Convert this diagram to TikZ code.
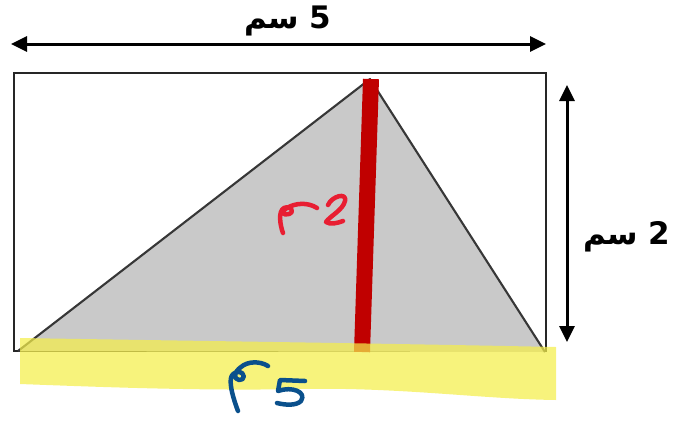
\documentclass[tikz,border=0pt]{standalone}
\usepackage{fontspec}
\newfontfamily\arabicfont[Script=Arabic]{DejaVu Sans}
\TeXXeTstate=1
\usetikzlibrary{arrows.meta}
\definecolor{trigray}{RGB}{201,201,201}
\definecolor{edgegray}{RGB}{55,55,55}
\definecolor{hred}{RGB}{192,0,0}
\definecolor{hl}{RGB}{244,238,74}
\definecolor{penred}{RGB}{232,30,50}
\definecolor{penblue}{RGB}{10,80,140}
\tikzset{
  dimarrow/.style={line width=3pt,{Triangle[length=16pt,width=15pt]}-{Triangle[length=16pt,width=15pt]}},
  dimlabel/.style={font=\arabicfont\bfseries\fontsize{31}{36}\selectfont, inner sep=0pt},
  pen/.style={line width=4.5pt,line cap=round,line join=round}
}
\begin{document}
\begin{tikzpicture}[x=1pt,y=-1pt]
\useasboundingbox (0,0) rectangle (686,421);
% rectangle
\coordinate (r1) at (14,73);
\coordinate (r2) at (546,351);
\draw[line width=2.3pt,black!85] (r1) rectangle (r2);
% triangle
\coordinate (A) at (18,351);
\coordinate (B) at (370,79);
\coordinate (C) at (545,352);
\fill[trigray] (A) -- (B) -- (C) -- cycle;
\draw[line width=2.1pt,edgegray,line join=round] (A) -- (B) -- (C);
% red height
\coordinate (ht) at (371,79);
\coordinate (hb) at (362,352);
\draw[hred,line width=16pt] (ht) -- (hb);
% yellow highlight
\fill[hl,opacity=0.72] (20,338) .. controls (200,341) and (360,343) .. (556,347)
  -- (556,400) .. controls (480,399) and (400,387) .. (300,389)
  .. controls (200,391) and (100,387) .. (20,384) -- cycle;
% dimension arrows
\coordinate (ta) at (11,44);
\coordinate (tb) at (546,44);
\draw[dimarrow] (ta) -- (tb);
\node[dimlabel] (toplab) at (288,21) {\beginR 5 سم\endR};
\coordinate (ra) at (567,85);
\coordinate (rb) at (567,342);
\draw[dimarrow] (ra) -- (rb);
\node[dimlabel] (rightlab) at (627,237) {\beginR 2 سم\endR};
% handwritten red
\draw[pen,penred] (317,208) .. controls (308,202) and (295,203) .. (287,208)
  .. controls (280,212) and (283,216) .. (289,214)
  .. controls (295,212) and (291,205) .. (284,208)
  .. controls (278,211) and (280,225) .. (283,233);
\draw[pen,penred] (328,205) .. controls (332,196) and (347,192) .. (345,201)
  .. controls (343,210) and (330,216) .. (326,222)
  .. controls (330,225) and (338,223) .. (343,221);
% handwritten blue
\draw[pen,penblue] (268,366) .. controls (260,361) and (248,361) .. (241,367)
  .. controls (234,372) and (233,379) .. (239,380)
  .. controls (245,381) and (246,372) .. (238,372)
  .. controls (229,373) and (230,382) .. (232,392)
  .. controls (234,400) and (236,406) .. (238,411);
\draw[pen,penblue] (305,381) -- (280,380) -- (278,391)
  .. controls (292,386) and (307,392) .. (301,401)
  .. controls (296,406) and (285,405) .. (277,403);
\end{tikzpicture}
\end{document}
